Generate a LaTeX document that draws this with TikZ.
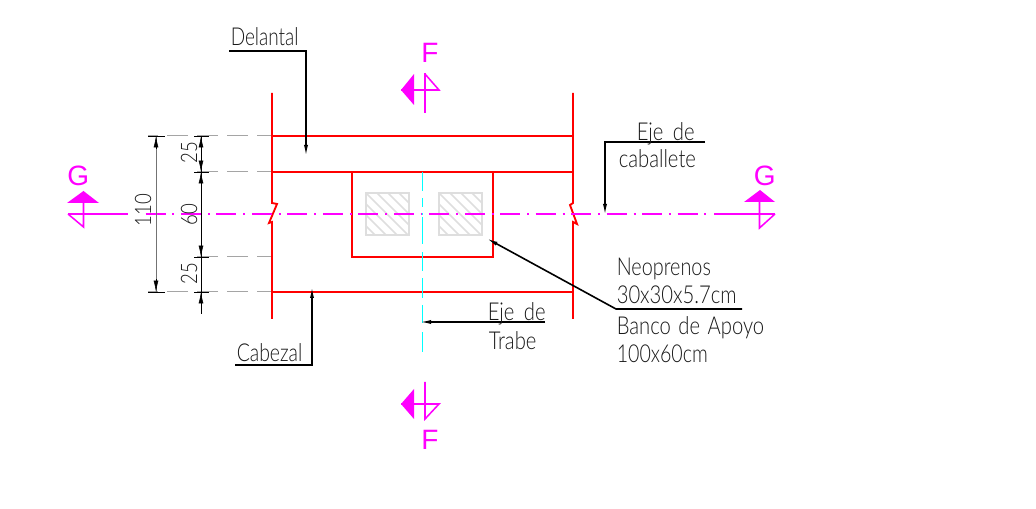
\documentclass[tikz,border=0pt]{standalone}
\usepackage{fontspec}
\setmainfont{Liberation Sans}
\newfontfamily\cadfont[FakeStretch=0.82]{Lato Light}
\usetikzlibrary{arrows.meta}
\definecolor{cadred}{RGB}{255,0,0}
\definecolor{cadmag}{RGB}{255,0,255}
\definecolor{cadcyan}{RGB}{0,255,255}
\definecolor{cadgray}{RGB}{165,165,165}
\definecolor{hatchgray}{RGB}{222,222,222}
\tikzset{
  x=0.75pt,y=-0.75pt,
  redline/.style={draw=cadred,line width=1.4pt},
  magline/.style={draw=cadmag,line width=1.3pt},
  secline/.style={draw=cadmag,line width=1.15pt},
  cyanline/.style={draw=cadcyan,line width=1.25pt},
  extline/.style={draw=cadgray,line width=0.75pt,dash pattern=on 15.75pt off 6.75pt,dash phase=4.5pt},
  dimline/.style={draw=black,line width=0.7pt},
  dimtick/.style={draw=black,line width=0.7pt},
  leader/.style={draw=black,line width=1.2pt},
  cadtip/.style={-{Latex[length=9pt,width=3pt]}},
  dimtip/.style={{Latex[length=8.5pt,width=3.6pt]}-},
  hatchbox/.style={draw=hatchgray,line width=1.3pt},
  hatchline/.style={draw=hatchgray,line width=1.2pt},
  cadtext/.style={anchor=base west,inner sep=0pt,font=\cadfont\fontsize{18.5}{20}\selectfont,text=black!90},
  dimtext/.style={anchor=center,inner sep=0pt,font=\cadfont\fontsize{17}{18}\selectfont,text=black!90,rotate=90},
  seclabel/.style={anchor=base west,inner sep=0pt,font=\fontsize{21}{23}\selectfont,text=cadmag},
}
\begin{document}
\begin{tikzpicture}
\useasboundingbox (0,0) rectangle (1036,509);
% hatched neoprene pads
\foreach \xa/\xb in {366/409,439/482}{
  \begin{scope}
    \clip (\xa,193) rectangle (\xb,235);
    \foreach \k in {-44,-33,-22,-11,0,11,22,33,44}{
      \draw[hatchline] (\xa+\k-5,188) -- (\xa+\k+55,248);
    }
  \end{scope}
  \draw[hatchbox] (\xa,193) rectangle (\xb,235);
}
% extension lines
\foreach \yy/\xe in {136/148,172/194,257/194,292/148}{
  \draw[extline] (272,\yy) -- (\xe,\yy);
}
% red outline
\draw[redline] (272,93) -- (272,203) -- (277,204) -- (269,223) -- (272,222) -- (272,319);
\draw[redline] (573,93) -- (573,203) -- (570,205) -- (577,224) -- (573,222) -- (573,319);
\draw[redline] (272,136) -- (573,136);
\draw[redline] (272,172) -- (573,172);
\draw[redline] (272,292) -- (573,292);
\draw[redline] (352,172) rectangle (493,257);
% axes
\draw[magline] (68,214) -- (128,214);
\draw[magline,dash pattern=on 15pt off 5.2pt on 1.5pt off 4.9pt] (145.5,214) -- (708,214);
\draw[magline] (714,214) -- (775,214);
\foreach \ya/\yb in {172/191,198/207,213/215,217/244,252/271,278/298,305/323,332/352}{
  \draw[cyanline] (422.5,\ya) -- (422.5,\yb);
}
% section marks F
\draw[secline] (425,73) -- (425,113);
\draw[secline] (401,90) -- (439,90) -- (425,74);
\fill[cadmag] (401,90) -- (414,74) -- (414,105) -- cycle;
\node[seclabel] (Ftop) at (421,63) {F};
\draw[secline] (425,382) -- (425,419) -- (439,404) -- (401,404);
\fill[cadmag] (401,404) -- (414,389) -- (414,419) -- cycle;
\node[seclabel] (Fbot) at (421,450) {F};
% section marks G
\draw[secline] (83.5,192) -- (83.5,227) -- (68,214);
\fill[cadmag] (67,203) -- (83.5,191) -- (99,203) -- cycle;
\node[seclabel] (Gleft) at (67,186) {G};
\draw[secline] (759.5,192) -- (759.5,228) -- (775,214);
\fill[cadmag] (744,202) -- (760,190) -- (775,202) -- cycle;
\node[seclabel] (Gright) at (753.5,186) {G};
% dimensions
\draw[dimline,draw=black!55] (156,136) -- (156,292);
\draw[dimline] (201,136) -- (201,314);
\foreach \yy in {136,292}{ \draw[dimtick] (148,\yy) -- (165,\yy); }
\foreach \yy in {136,172,257,292}{ \draw[dimtick] (194,\yy) -- (209,\yy); }
\foreach \xx/\ya/\yb in {156/136/149,156/292/279,201/136/149,201/172/160,201/172/184,201/257/245,201/292/304}{
  \draw[dimtip,draw=black] (\xx,\ya) -- (\xx,\yb);
}
\node[dimtext] (d110) at (143,210) {110};
\node[dimtext] (d25a) at (189,153) {25};
\node[dimtext] (d60) at (189,215) {60};
\node[dimtext] (d25b) at (189,274) {25};
% leaders
\coordinate (delA) at (229,51);
\coordinate (delB) at (306,51);
\coordinate (delT) at (306,157);
\draw[leader,cadtip] (delA) -- (delB) -- (delT);
\node[cadtext,xscale=0.94] (delantal) at (230.5,46) {Delantal};
\coordinate (ejA) at (705,142);
\coordinate (ejB) at (605,142);
\coordinate (ejT) at (605,216);
\draw[leader,cadtip] (ejA) -- (ejB) -- (ejT);
\node[cadtext] (ejecab1) at (636.5,140.5) {Eje\hspace{3pt} de};
\node[cadtext] (ejecab2) at (618.5,168) {caballete};
\coordinate (neoA) at (742,309);
\coordinate (neoB) at (616,309);
\coordinate (neoT) at (486,238);
\draw[leader,cadtip] (neoA) -- (neoB) -- (neoT);
\node[cadtext,xscale=0.98] (neo1) at (616.5,276) {Neoprenos};
\node[cadtext] (neo2) at (616.5,304) {30x30x5.7cm};
\node[cadtext] (banco1) at (616.5,335) {Banco\hspace{1.5pt} de\hspace{1.5pt} Apoyo};
\node[cadtext,xscale=0.97] (banco2) at (616.5,363) {100x60cm};
\coordinate (trA) at (545,322);
\coordinate (trT) at (419,322);
\draw[leader,cadtip] (trA) -- (trT);
\node[cadtext] (ejetr1) at (487.5,321) {Eje\hspace{3pt} de};
\node[cadtext] (ejetr2) at (488.5,350) {Trabe};
\coordinate (cabA) at (235,365);
\coordinate (cabB) at (312,365);
\coordinate (cabT) at (312,286);
\draw[leader,cadtip] (cabA) -- (cabB) -- (cabT);
\node[cadtext,xscale=0.96] (cabezal) at (236.5,362) {Cabezal};
\end{tikzpicture}
\end{document}
